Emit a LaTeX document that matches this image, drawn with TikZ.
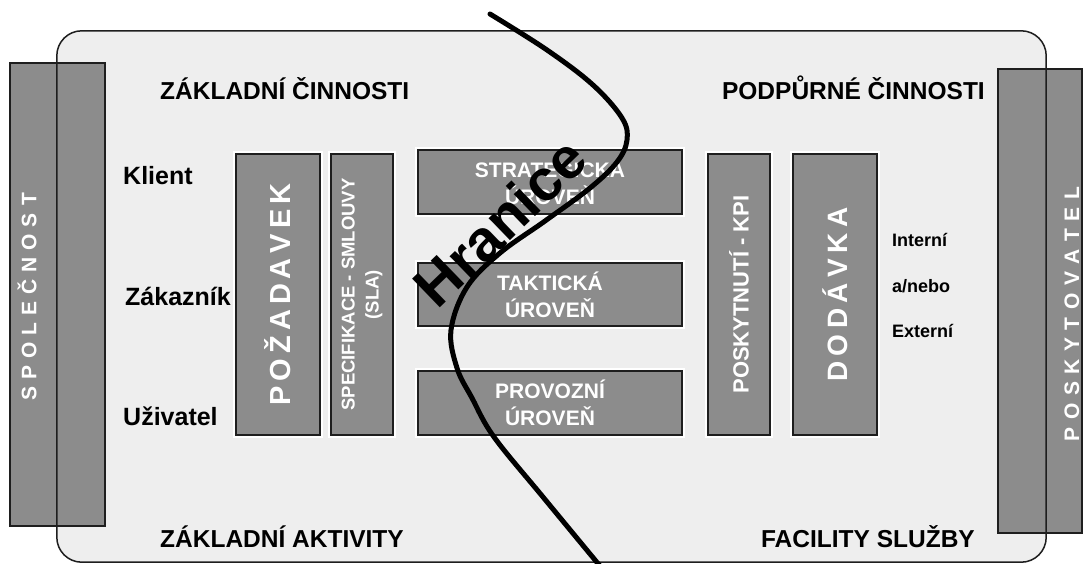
\documentclass[tikz,border=0pt]{standalone}
\usepackage{fontspec}
\setmainfont{Liberation Sans}
\definecolor{boxgray}{RGB}{140,140,140}
\definecolor{panel}{RGB}{238,238,238}
\definecolor{edge}{RGB}{30,30,30}
% letter-spaced word: \lsWord{gap}{LETTERS}
\newcommand\lsWord[2]{\def\lsGap{#1}\lsFirst#2\relax}
\def\lsFirst#1{#1\lsRest}
\def\lsRest#1{\ifx#1\relax\else\kern\lsGap\relax#1\expandafter\lsRest\fi}
\begin{document}
\begin{tikzpicture}[x=1pt,y=-1pt,
  gbox/.style={draw=edge,line width=1.6pt,fill=boxgray,inner sep=0pt,
    text=white,font=\bfseries,align=center,
    preaction={draw=white,line width=6pt}},
  sidebox/.style={draw=edge,line width=1.4pt,fill=boxgray,inner sep=0pt},
  title/.style={font=\bfseries\fontsize{24.5}{28}\selectfont,inner sep=0pt},
  lbl/.style={font=\bfseries\fontsize{25}{28}\selectfont,inner sep=0pt},
  small/.style={font=\bfseries\fontsize{18}{20}\selectfont,inner sep=0pt},
  vert/.style={white,font=\bfseries,inner sep=0pt,rotate=90}]
\useasboundingbox (0,0) rectangle (1084,564);
\fill[white] (0,0) rectangle (1084,564);

% panel behind everything
\node[fill=panel,rounded corners=25pt,minimum width=989pt,minimum height=531pt,inner sep=0pt] (frame) at (551.5,296.5) {};

% side bars
\node[sidebox,minimum width=95pt,minimum height=463pt] (soc) at (57.5,294.5) {};
\node[sidebox,minimum width=84pt,minimum height=464pt] (posk) at (1040,301) {};
\node[vert,font=\bfseries\fontsize{21}{24}\selectfont] (soctext) at (27,297) {\lsWord{7pt}{SPOLEČNOST}};
\node[vert,font=\bfseries\fontsize{21}{24}\selectfont] (posktext) at (1072,314) {\lsWord{7.5pt}{POSKYTOVATEL}};

% panel outline over the side bars
\draw[edge,line width=1.5pt,rounded corners=25pt] (frame.south west) rectangle (frame.north east);

% main column boxes
\node[gbox,rotate=90,minimum width=281pt,minimum height=84pt,font=\bfseries\fontsize{29}{32}\selectfont] (pozad) at (278,294.5) {\lsWord{5pt}{POŽADAVEK}};
\node[gbox,rotate=90,minimum width=281pt,minimum height=62pt,font=\bfseries\fontsize{18.5}{24}\selectfont] (spec) at (362,294.5) {SPECIFIKACE - SMLOUVY\\(SLA)};
\node[gbox,minimum width=264pt,minimum height=64pt,font=\bfseries\fontsize{21}{27}\selectfont] (strat) at (550,182) {STRATEGICKÁ\\ÚROVEŇ};
\node[gbox,minimum width=264pt,minimum height=63pt,font=\bfseries\fontsize{21}{27}\selectfont] (takt) at (550,294.5) {TAKTICKÁ\\ÚROVEŇ};
\node[gbox,minimum width=264pt,minimum height=64pt,font=\bfseries\fontsize{21}{27}\selectfont] (provoz) at (550,403) {PROVOZNÍ\\ÚROVEŇ};
\node[gbox,rotate=90,minimum width=281pt,minimum height=62pt,font=\bfseries\fontsize{22}{24}\selectfont] (kpi) at (739,294.5) {POSKYTNUTÍ - KPI};
\node[gbox,rotate=90,minimum width=281pt,minimum height=84pt,font=\bfseries\fontsize{28}{32}\selectfont] (dodavka) at (835,294.5) {\lsWord{5.5pt}{DODÁVKA}};

% headings
\node[title,anchor=base west] (zc) at (160,100) {ZÁKLADNÍ ČINNOSTI};
\node[title,anchor=base east] (pc) at (985,100) {PODPŮRNÉ ČINNOSTI};
\node[title,anchor=base west] (za) at (160,547) {ZÁKLADNÍ AKTIVITY};
\node[title,anchor=base east] (fs) at (975,547) {FACILITY SLUŽBY};

% row labels
\node[lbl,anchor=base west] (klient) at (123,185) {Klient};
\node[lbl,anchor=base west] (zakaznik) at (125,305) {Zákazník};
\node[lbl,anchor=base west] (uzivatel) at (123,425) {Uživatel};

\node[small,anchor=base west] (interni) at (892,247) {Interní};
\node[small,anchor=base west] (anebo) at (892,292) {a/nebo};
\node[small,anchor=base west] (externi) at (892,337) {Externí};

% boundary line
\draw[black,line width=5pt,line cap=round] plot[smooth,tension=0.6] coordinates {
  (490,14) (547,50) (593,85) (622,118) (627,140) (617,162) (590,188)
  (545,221) (500,253) (467,287) (451,330) (457,368) (472,398)
  (494,437) (543,497) (600,566)};
\node[font=\bfseries\fontsize{58}{60}\selectfont,rotate=44,inner sep=0pt] (hranice) at (500,222) {Hranice};
\end{tikzpicture}
\end{document}
